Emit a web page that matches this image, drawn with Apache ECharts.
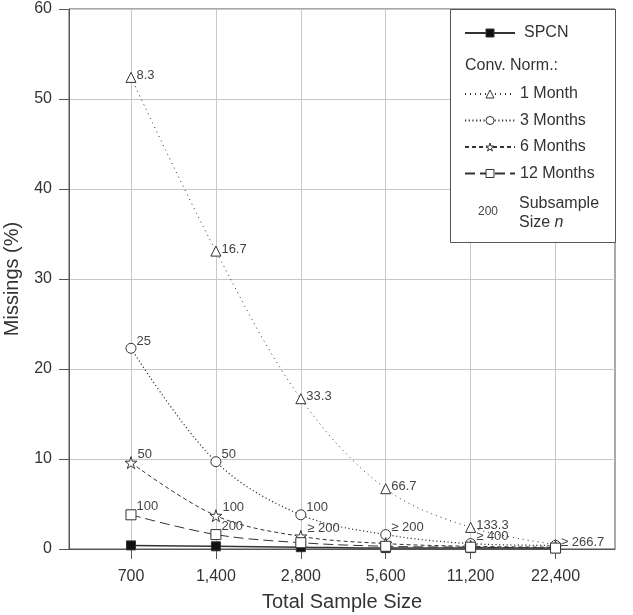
<!DOCTYPE html>
<html>
<head>
<meta charset="utf-8">
<script src="https://cdn.jsdelivr.net/npm/echarts@6/dist/echarts.min.js"></script>
<style>html,body{margin:0;padding:0;background:#fff}#c{width:633px;height:615px}</style>
</head>
<body>
<div id="c"></div>
<script>
const categories = ['700', '1,400', '2,800', '5,600', '11,200', '22,400'];
const yTicks = [0, 10, 20, 30, 40, 50, 60];
const spcn = [0.4, 0.3, 0.2, 0.1, 0.1, 0.1];
const oneMonth = [52.4, 33.1, 16.7, 6.7, 2.4, 0.5];
const threeMonths = [22.3, 9.7, 3.8, 1.6, 0.6, 0.4];
const sixMonths = [9.6, 3.7, 1.4, 0.6, 0.3, 0.2];
const twelveMonths = [3.8, 1.6, 0.7, 0.3, 0.2, 0.1];
const oneMonthN = ['8.3', '16.7', '33.3', '66.7', '133.3', '≥ 266.7'];
const threeMonthsN = ['25', '50', '100', '≥ 200', '≥ 400', ''];
const sixMonthsN = ['50', '100', '≥ 200', '', '', ''];
const twelveMonthsN = ['100', '200', '', '', '', ''];

const FONT = 'Liberation Sans, Arial, sans-serif';
const INK = '#333';
const idx = categories.map((c, i) => i);

function pts(vals, labels) {
  return vals.map((v, i) => ({
    value: [i, v],
    label: { show: !!(labels && labels[i]), formatter: labels ? labels[i] : '' }
  }));
}

function lineSeries(name, vals, labels, symbol, dash, fill, size, width, dy) {
  return {
    name: name,
    type: 'line',
    data: pts(vals, labels),
    smooth: 0.35,
    symbol: symbol,
    symbolSize: size,
    showAllSymbol: true,
    lineStyle: { color: INK, width: width, type: dash },
    itemStyle: { color: fill, borderColor: INK, borderWidth: 1 },
    label: {
      position: 'right', distance: 1, offset: [-1, dy],
      fontFamily: FONT, fontSize: 13, color: '#444'
    },
    emphasis: { disabled: true },
    z: 3
  };
}

const chart = echarts.init(document.getElementById('c'), null, { renderer: 'canvas' });
chart.setOption({
  animation: false,
  backgroundColor: '#fff',
  grid: { left: 69, right: 18, top: 9, bottom: 66, outerBoundsMode: 'none', containLabel: false, show: true, borderColor: '#555', borderWidth: 1, backgroundColor: 'transparent' },
  xAxis: {
    type: 'value', min: -0.73, max: 5.7,
    name: 'Total Sample Size', nameLocation: 'middle', nameGap: 43,
    nameTextStyle: { fontFamily: FONT, fontSize: 20, color: INK },
    axisLine: { show: true, onZero: false, lineStyle: { color: '#555', width: 1 } },
    axisTick: { show: true, customValues: idx, length: 10, lineStyle: { color: '#555' } },
    axisLabel: { customValues: idx, formatter: v => categories[Math.round(v)], margin: 20, fontFamily: FONT, fontSize: 16, color: INK },
    splitLine: { show: true, lineStyle: { color: '#c8c8c8', width: 1 } }
  },
  yAxis: {
    type: 'value', min: yTicks[0], max: yTicks[yTicks.length - 1], interval: 10,
    name: 'Missings (%)', nameLocation: 'middle', nameGap: 47,
    nameTextStyle: { fontFamily: FONT, fontSize: 20, color: INK },
    axisLine: { show: true, onZero: false, lineStyle: { color: '#555', width: 1 } },
    axisTick: { show: true, length: 10, lineStyle: { color: '#555' } },
    axisLabel: { margin: 17, fontFamily: FONT, fontSize: 16, color: INK },
    splitLine: { show: true, lineStyle: { color: '#c8c8c8', width: 1 } }
  },
  legend: [
    {
      data: ['SPCN'], orient: 'vertical', left: 464, top: 25,
      itemWidth: 50, itemHeight: 10, itemGap: 10,
      itemStyle: { borderWidth: 1 },
      textStyle: { fontFamily: FONT, fontSize: 16, color: INK, padding: [0, 0, 0, 4] },
      selectedMode: false, padding: 0
    },
    {
      data: ['1 Month', '3 Months', '6 Months', '12 Months'], orient: 'vertical', left: 464, top: 86,
      itemWidth: 50, itemHeight: 10, itemGap: 10.5,
      itemStyle: { borderWidth: 1 },
      textStyle: { fontFamily: FONT, fontSize: 16, color: INK },
      selectedMode: false, padding: 0
    }
  ],
  graphic: [
    { type: 'rect', left: 450, top: 9, shape: { width: 165, height: 233 }, style: { fill: '#fff', stroke: '#555', lineWidth: 1 }, z: 1 },
    { type: 'text', left: 465, top: 58, style: { text: 'Conv. Norm.:', font: '16px ' + FONT, fill: INK }, z: 10 },
    { type: 'text', left: 478, top: 206, style: { text: '200', font: '12px ' + FONT, fill: '#444' }, z: 10 },
    { type: 'text', left: 519, top: 194, style: {
        text: 'Subsample\nSize {i|n}', font: '16px ' + FONT, fill: INK, lineHeight: 19,
        rich: { i: { fontStyle: 'italic', fontSize: 16, fontFamily: FONT, fill: INK } }
      }, z: 10 }
  ],
  series: [
    lineSeries('SPCN', spcn, null, 'rect', 'solid', '#111', 9, 1.5, 0),
    lineSeries('1 Month', oneMonth, oneMonthN, 'triangle', [1, 4], '#fff', 10, 1, -2),
    lineSeries('3 Months', threeMonths, threeMonthsN, 'circle', [1.2, 2.5], '#fff', 10, 1.2, -7),
    lineSeries('6 Months', sixMonths, sixMonthsN, 'path://M50,0 L61,35 L98,35 L68,57 L79,91 L50,70 L21,91 L32,57 L2,35 L39,35 Z', [4, 3], '#fff', 12, 1, -8),
    lineSeries('12 Months', twelveMonths, twelveMonthsN, 'rect', [10, 5], '#fff', 10, 1, -8)
  ]
});
</script>
</body>
</html>
